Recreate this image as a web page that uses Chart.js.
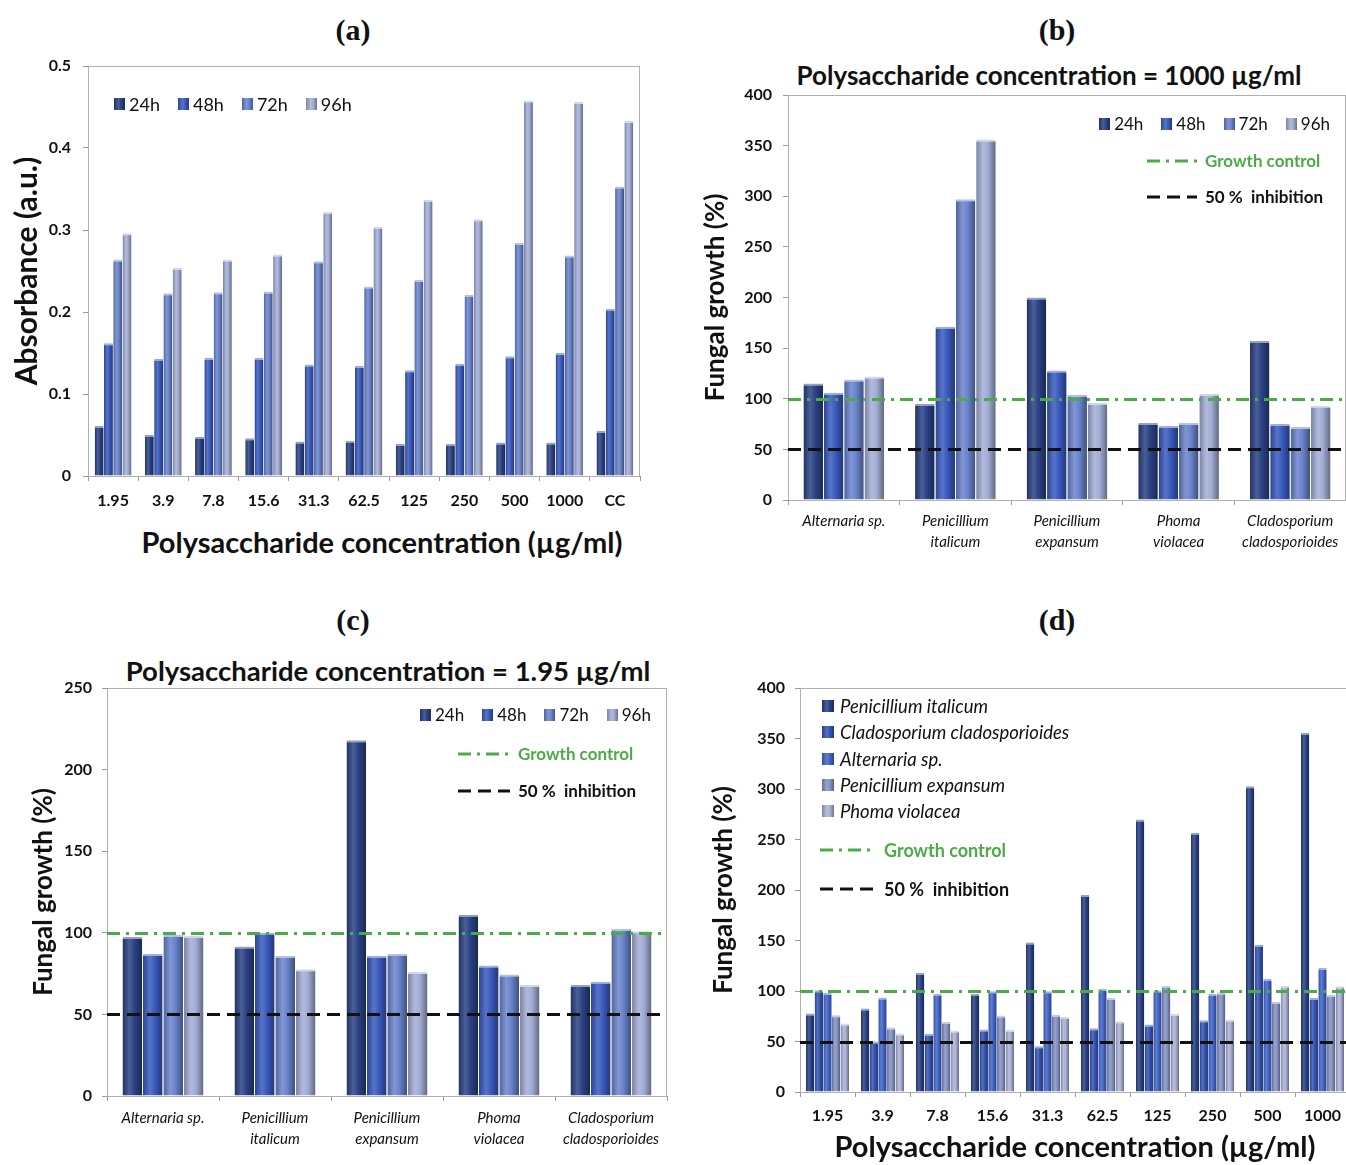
<!DOCTYPE html>
<html>
<head>
<meta charset="utf-8">
<script src="https://cdn.jsdelivr.net/npm/chart.js@4.4.1/dist/chart.umd.min.js"></script>
<style>
html, body { margin: 0; padding: 0; background: #fff; }
body { width: 1346px; height: 1165px; position: relative; overflow: hidden; font-family: Lato, 'Open Sans', sans-serif; color: #111; }
.box { position: absolute; }
.box canvas { display: block; }
.letter { position: absolute; font-family: 'Liberation Serif', serif; font-weight: bold; font-size: 30px; transform: translate(-50%, -50%); white-space: nowrap; }
.ttl { position: absolute; font-weight: bold; font-size: 26px; transform: translate(-50%, -50%); white-space: nowrap; }
.leg { position: absolute; white-space: nowrap; line-height: 22px; }
.row { display: flex; align-items: center; }
.row .item { display: flex; align-items: center; margin-right: 18px; }
.row .item:last-child { margin-right: 0; }
.sq { display: inline-block; width: 11px; height: 12px; margin-right: 4px; }
.line-item { position: absolute; display: flex; align-items: center; white-space: nowrap; }
.line-item svg { display: block; }
</style>
</head>
<body>

<div class="letter" style="left:353px;top:30px">(a)</div>
<div class="letter" style="left:1057px;top:30px">(b)</div>
<div class="letter" style="left:353px;top:620px">(c)</div>
<div class="letter" style="left:1057px;top:620px">(d)</div>

<div class="ttl" style="left:1049px;top:75px">Polysaccharide concentration = 1000 µg/ml</div>
<div class="ttl" style="left:388px;top:670px;font-size:27.5px">Polysaccharide concentration = 1.95 µg/ml</div>
<div class="ttl" style="left:382px;top:541px;font-size:29px">Polysaccharide concentration (µg/ml)</div>

<div class="box" style="left:0;top:50px"><canvas id="chartA" width="660" height="520"></canvas></div>
<div class="box" style="left:700px;top:85px"><canvas id="chartB" width="646" height="475"></canvas></div>
<div class="box" style="left:20px;top:680px"><canvas id="chartC" width="660" height="480"></canvas></div>
<div class="box" style="left:700px;top:680px"><canvas id="chartD" width="660" height="485"></canvas></div>

<script>
// --- data ---
const concLabels = ['1.95', '3.9', '7.8', '15.6', '31.3', '62.5', '125', '250', '500', '1000', 'CC'];
const timeLabels = ['24h', '48h', '72h', '96h'];

// (a) absorbance
const absorb24 = [0.061, 0.050, 0.048, 0.046, 0.042, 0.043, 0.039, 0.039, 0.041, 0.041, 0.055];
const absorb48 = [0.162, 0.143, 0.144, 0.144, 0.136, 0.134, 0.129, 0.137, 0.146, 0.150, 0.204];
const absorb72 = [0.264, 0.223, 0.224, 0.225, 0.262, 0.231, 0.239, 0.221, 0.284, 0.269, 0.353];
const absorb96 = [0.296, 0.254, 0.264, 0.270, 0.322, 0.304, 0.337, 0.313, 0.458, 0.456, 0.433];

const fungusLabels = [['Alternaria sp.'], ['Penicillium', 'italicum'], ['Penicillium', 'expansum'], ['Phoma', 'violacea'], ['Cladosporium', 'cladosporioides']];

// (b) 1000 µg/ml
const high24 = [115, 95, 200, 76, 157];
const high48 = [106, 171, 128, 73, 75];
const high72 = [119, 297, 104, 76, 72];
const high96 = [122, 356, 96, 105, 93];

// (c) 1.95 µg/ml
const low24 = [97.5, 91.6, 218, 111, 68];
const low48 = [87, 100, 86, 80, 70];
const low72 = [98.6, 86, 87, 74.5, 102.5];
const low96 = [98, 77.6, 76, 68, 101];

// (d) per fungus
const concD = ['1.95', '3.9', '7.8', '15.6', '31.3', '62.5', '125', '250', '500', '1000'];
const speciesD = ['Penicillium italicum', 'Cladosporium cladosporioides', 'Alternaria sp.', 'Penicillium expansum', 'Phoma violacea'];
const pItalicum = [77.6, 82.6, 117.8, 97.4, 148, 195, 269.7, 256.6, 302.6, 355.6];
const cClado = [100.7, 50, 57.6, 61.8, 45.4, 63, 66.8, 71, 145.7, 93];
const alternaria = [98, 93.5, 97.4, 99.7, 99.7, 102, 100.5, 97.4, 111.8, 122.7];
const pExpansum = [76, 63.9, 69.4, 75.7, 76.6, 93, 105.3, 98.5, 89.3, 96];
const phoma = [67.8, 58, 60.8, 61.6, 74.3, 70, 77.5, 71.7, 105.3, 104.8];

const controlLevel = 100;
const inhibitionLevel = 50;

// --- styling ---
const timeColors = ['#2b4385', '#3a5bbf', '#6a84cd', '#a3aed6'];
const speciesColors = ['#2a4287', '#3656b5', '#4466cb', '#8694c6', '#aab3d7'];
const green = '#4bab47';
const controlDash = [13, 6, 3, 6];
const inhibitionDash = [13, 7];

Chart.defaults.font.family = "Lato, 'Open Sans', sans-serif";
Chart.defaults.color = '#111';

function mix(hex, amt) {
    const n = parseInt(hex.slice(1), 16);
    const t = amt < 0 ? 0 : 255, p = Math.abs(amt);
    const c = [n >> 16, (n >> 8) & 255, n & 255].map(v => Math.round(v + (t - v) * p));
    return `rgb(${c[0]},${c[1]},${c[2]})`;
}

function swatch(hex) {
    return `linear-gradient(90deg, ${mix(hex, -0.25)}, ${mix(hex, 0.15)} 40%, ${hex} 65%, ${mix(hex, -0.35)})`;
}

// shades each bar like a cylinder
const cylinder = {
    id: 'cylinder',
    beforeDatasetsDraw(chart) {
        const c = chart.ctx;
        chart.data.datasets.forEach((ds, i) => {
            chart.getDatasetMeta(i).data.forEach(el => {
                const l = el.x - el.width / 2, r = el.x + el.width / 2;
                const g = c.createLinearGradient(l, 0, r, 0);
                g.addColorStop(0, mix(ds.tone, -0.25));
                g.addColorStop(0.35, mix(ds.tone, 0.15));
                g.addColorStop(0.6, ds.tone);
                g.addColorStop(1, mix(ds.tone, -0.4));
                el.options.backgroundColor = g;
            });
        });
    }
};

const frame = {
    id: 'frame',
    beforeDatasetsDraw(chart) {
        const { ctx, chartArea: a } = chart;
        ctx.save();
        ctx.strokeStyle = '#b0b0b0';
        ctx.lineWidth = 1;
        ctx.strokeRect(a.left + 0.5, a.top + 0.5, a.width - 1, a.height);
        ctx.restore();
    }
};

// growth control / 50 % inhibition lines, placed with the y scale
const refLines = {
    id: 'refLines',
    afterDatasetsDraw(chart, args, opts) {
        if (!opts.levels) return;
        const { ctx, chartArea: a, scales: { y } } = chart;
        opts.levels.forEach(l => {
            const py = Math.round(y.getPixelForValue(l.value)) + 0.5;
            ctx.save();
            ctx.strokeStyle = l.color;
            ctx.lineWidth = 3;
            ctx.setLineDash(l.dash);
            ctx.beginPath();
            ctx.moveTo(a.left, py);
            ctx.lineTo(a.right, py);
            ctx.stroke();
            ctx.restore();
        });
    }
};

function makePanel(id, o) {
    const datasets = o.series.map((s, i) => ({
        label: o.names[i], data: s, tone: o.colors[i],
        backgroundColor: () => o.colors[i],
        borderColor: mix(o.colors[i], 0.5),
        borderWidth: { top: 2, right: 0, bottom: 0, left: 0 },
        categoryPercentage: o.catPct, barPercentage: 0.96
    }));
    const levels = o.refLines ? [
        { value: controlLevel, color: green, dash: controlDash },
        { value: inhibitionLevel, color: '#111', dash: inhibitionDash }
    ] : null;
    new Chart(document.getElementById(id), {
        type: 'bar',
        data: { labels: o.labels, datasets },
        options: {
            responsive: false,
            animation: false,
            layout: { padding: o.pad },
            plugins: { legend: { display: false }, tooltip: { enabled: false }, refLines: { levels } },
            scales: {
                x: {
                    type: 'category', offset: true,
                    grid: { offset: true, drawOnChartArea: false, tickLength: 5, color: '#999' },
                    border: { color: '#888' },
                    ticks: { padding: o.xPad, font: o.xFont, maxRotation: 0, autoSkip: false },
                    title: o.xTitle ? { display: true, text: o.xTitle, font: { size: 29, weight: 'bold' }, color: '#111', padding: { top: 0, bottom: o.xTitlePad } } : { display: false },
                    afterFit: s => { s.height = o.xH; s.paddingLeft = 0; s.paddingRight = 0; }
                },
                y: {
                    min: 0, max: o.yMax,
                    ticks: { stepSize: o.step, padding: o.yPad, font: { size: 16, weight: 'bold' } },
                    grid: { drawOnChartArea: false, tickLength: 5, color: '#999' },
                    border: { color: '#888' },
                    title: { display: true, text: o.yTitle, font: { size: o.yTitleSize, weight: 'bold' }, color: '#111', padding: { top: o.yTitlePad, bottom: 0 } },
                    afterFit: s => { s.width = o.yW; s.paddingTop = 0; s.paddingBottom = 0; }
                }
            }
        },
        plugins: [frame, cylinder, refLines]
    });
}

makePanel('chartA', {
    labels: concLabels, names: timeLabels, colors: timeColors,
    series: [absorb24, absorb48, absorb72, absorb96],
    catPct: 0.74, yMax: 0.5, step: 0.1,
    pad: { top: 16, right: 20, left: 0, bottom: 0 }, yW: 88, xH: 94,
    xPad: 10, yPad: 12, xFont: { size: 16, weight: 'bold' },
    yTitle: 'Absorbance (a.u.)', yTitleSize: 30, yTitlePad: 9
});

makePanel('chartB', {
    labels: fungusLabels, names: timeLabels, colors: timeColors,
    series: [high24, high48, high72, high96], refLines: true,
    catPct: 0.73, yMax: 400, step: 50,
    pad: { top: 10, right: 0, left: 0, bottom: 0 }, yW: 88, xH: 60,
    xPad: 6, yPad: 11, xFont: { size: 15, style: 'italic', lineHeight: 1.4 },
    yTitle: 'Fungal growth (%)', yTitleSize: 26, yTitlePad: 0
});

makePanel('chartC', {
    labels: fungusLabels, names: timeLabels, colors: timeColors,
    series: [low24, low48, low72, low96], refLines: true,
    catPct: 0.73, yMax: 250, step: 50,
    pad: { top: 8, right: 13, left: 0, bottom: 0 }, yW: 87, xH: 64,
    xPad: 7, yPad: 10, xFont: { size: 15, style: 'italic', lineHeight: 1.4 },
    yTitle: 'Fungal growth (%)', yTitleSize: 26, yTitlePad: 8
});

makePanel('chartD', {
    labels: concD, names: speciesD, colors: speciesColors,
    series: [pItalicum, cClado, alternaria, pExpansum, phoma], refLines: true,
    catPct: 0.79, yMax: 400, step: 50,
    pad: { top: 8, right: 10, left: 0, bottom: 0 }, yW: 100, xH: 73,
    xPad: 9, yPad: 10, xFont: { size: 16, weight: 'bold' },
    xTitle: 'Polysaccharide concentration (µg/ml)', xTitlePad: 0,
    yTitle: 'Fungal growth (%)', yTitleSize: 26, yTitlePad: 8
});

// --- legends (html text) ---
function squareRow(pos, centerY, labels, colors, size) {
    const row = document.createElement('div');
    row.className = 'leg row';
    Object.assign(row.style, pos, { top: (centerY - 11) + 'px', fontSize: size + 'px' });
    labels.forEach((t, i) => {
        const it = document.createElement('span');
        it.className = 'item';
        it.innerHTML = `<i class="sq" style="background:${swatch(colors[i])}"></i>${t}`;
        row.appendChild(it);
    });
    document.body.appendChild(row);
}

function squareList(left, firstY, gap, labels, colors, size) {
    labels.forEach((t, i) => {
        const it = document.createElement('div');
        it.className = 'line-item';
        Object.assign(it.style, { left: left + 'px', top: (firstY + i * gap - 11) + 'px', fontSize: size + 'px', fontStyle: 'italic', lineHeight: '22px' });
        it.innerHTML = `<i class="sq" style="width:12px;height:12px;margin-right:6px;background:${swatch(colors[i])}"></i>${t}`;
        document.body.appendChild(it);
    });
}

function lineKey(left, centerY, len, gap, color, dash, text, textColor, weight, size) {
    const it = document.createElement('div');
    it.className = 'line-item';
    Object.assign(it.style, { left: left + 'px', top: (centerY - 11) + 'px', fontSize: size + 'px', color: textColor, fontWeight: weight, lineHeight: '22px' });
    it.innerHTML = `<svg width="${len}" height="6" style="margin-right:${gap}px"><line x1="0" y1="3" x2="${len}" y2="3" stroke="${color}" stroke-width="3" stroke-dasharray="${dash.join(' ')}"/></svg>${text}`;
    document.body.appendChild(it);
}

squareRow({ left: '114px' }, 104, timeLabels, timeColors, 18);

squareRow({ right: '16px' }, 124, timeLabels, timeColors, 17);
lineKey(1147, 161, 50, 8, green, controlDash, 'Growth control', green, 700, 17);
lineKey(1147, 197, 50, 8, '#111', inhibitionDash, '50 %&nbsp; inhibition', '#111', 700, 17);

squareRow({ left: '420px' }, 715, timeLabels, timeColors, 17);
lineKey(458, 754, 52, 8, green, controlDash, 'Growth control', green, 700, 17);
lineKey(458, 791, 52, 8, '#111', inhibitionDash, '50 %&nbsp; inhibition', '#111', 700, 17);

squareList(822, 706, 26.3, speciesD, speciesColors, 18.5);
lineKey(820, 850, 55, 9, green, controlDash, 'Growth control', green, 700, 18);
lineKey(820, 889, 55, 9, '#111', inhibitionDash, '50 %&nbsp; inhibition', '#111', 700, 18);
</script>
</body>
</html>
